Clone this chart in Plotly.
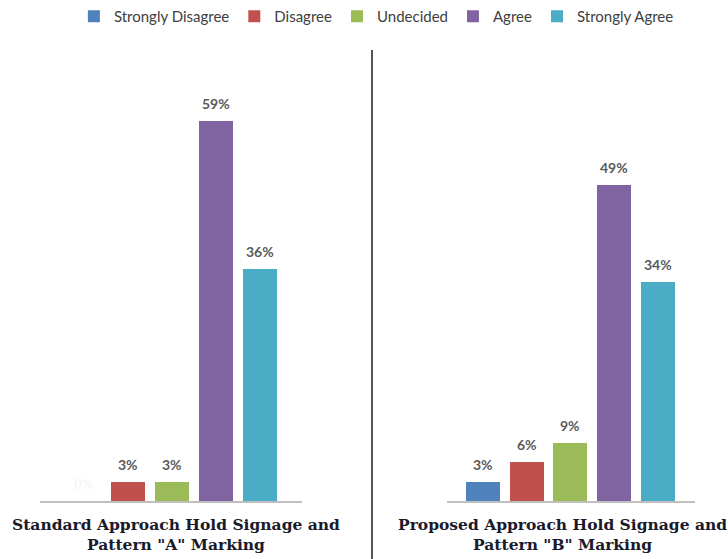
import plotly.graph_objects as go

# Survey responses (percent) for the two signage/marking approaches
categories = ["Strongly Disagree", "Disagree", "Undecided", "Agree", "Strongly Agree"]
standard_pct = [0, 3, 3, 59, 36]
proposed_pct = [3, 6, 9, 49, 34]
panel_titles = [
    "Standard Approach Hold Signage and<br>Pattern \"A\" Marking",
    "Proposed Approach Hold Signage and<br>Pattern \"B\" Marking",
]
colors = ["#4f81bd", "#c0504d", "#9bbb59", "#8064a2", "#4bacc6"]

W, H = 728, 559
fig = go.Figure()

panels = [(standard_pct, "x", "y"), (proposed_pct, "x2", "y2")]
for p, (vals, xa, ya) in enumerate(panels):
    for i, (cat, v) in enumerate(zip(categories, vals)):
        fig.add_trace(go.Bar(
            x=[i], y=[v], xaxis=xa, yaxis=ya,
            name=cat, legendgroup=cat, showlegend=(p == 0),
            marker=dict(color=colors[i], line=dict(width=0)),
            width=0.78,
        ))
        # value label above each bar; zero-valued labels are nearly invisible
        fig.add_annotation(
            x=i, y=v, xref=xa, yref=ya, text=f"<b>{v}%</b>",
            showarrow=False, xanchor="center", yanchor="bottom", yshift=7,
            font=dict(family="Lato, Open Sans, sans-serif", size=14,
                      color="#f6f6f6" if v == 0 else "#5a5a5a"),
        )

axis_common = dict(showgrid=False, zeroline=False, showticklabels=False, ticks="")
fig.update_layout(
    width=W, height=H,
    margin=dict(l=0, r=0, t=50, b=58),
    paper_bgcolor="white", plot_bgcolor="white",
    bargap=0,
    xaxis=dict(domain=[40 / W, 302 / W], range=[-1, 4.95],
               showline=True, linecolor="#bfbfbf", linewidth=2, **axis_common),
    xaxis2=dict(domain=[447 / W, 695 / W], range=[-0.83, 4.86],
                showline=True, linecolor="#bfbfbf", linewidth=2, **axis_common),
    yaxis=dict(range=[0, 70], showline=False, anchor="x", **axis_common),
    yaxis2=dict(range=[0, 70], showline=False, anchor="x2", **axis_common),
    legend=dict(orientation="h", x=0.517, xanchor="center", y=1.0, yanchor="top",
                yref="container",
                font=dict(family="Lato, Open Sans, sans-serif", size=15, color="#404040"),
                itemwidth=30, traceorder="normal"),
    showlegend=True,
)

# Vertical divider between the two panels
fig.add_shape(type="line", xref="paper", yref="paper",
              x0=372 / W, x1=372 / W, y0=-58 / (H - 108), y1=1.0,
              line=dict(color="#555555", width=2))

# Panel captions beneath each group
for xc, title in zip([176 / W, 562 / W], panel_titles):
    fig.add_annotation(
        text=f"<b>{title}</b>", xref="paper", yref="paper",
        x=xc, y=-12 / (H - 108), xanchor="center", yanchor="top",
        showarrow=False, align="center",
        font=dict(family="DejaVu Serif, serif", size=15.5, color="#1a1a2a"),
    )

fig.write_html("out.html")
